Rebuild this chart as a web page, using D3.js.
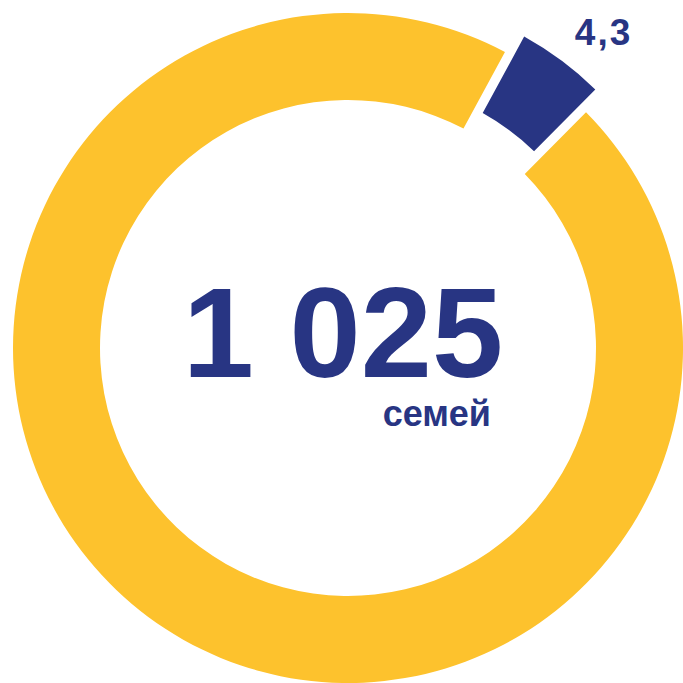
<!DOCTYPE html>
<html>
<head>
<meta charset="utf-8">
<script src="https://cdn.jsdelivr.net/npm/d3@7"></script>
<style>
    html, body { margin: 0; padding: 0; background: white; }
    #chart { width: 683px; height: 683px; }
    text { font-family: "Liberation Sans", Arial, sans-serif; font-weight: bold; }
</style>
</head>
<body>
<div id="chart"></div>
<script>
// data
const categories = ["other", "highlight"];
const values = [95.7, 4.3];
const highlightLabel = "4,3";
const totalLabel = "1 025";
const unitLabel = "семей";

const colors = {
    other: "#FDC22D",
    highlight: "#283583"
};

const width = 683;
const height = 683;
const cx = 348;
const cy = 348;
const innerR = 248;
const outerR = 335;
const explode = 23;

const svg = d3.select("#chart").append("svg")
    .attr("width", width)
    .attr("height", height)
    .attr("viewBox", `0 0 ${width} ${height}`);

const chart = svg.append("g")
    .attr("transform", `translate(${cx}, ${cy})`);

const data = categories.map((c, i) => ({ cat: c, value: values[i] }));

// highlight slice centred at ~37deg from north
const hlSpan = values[1] / d3.sum(values) * 2 * Math.PI;
const mid = 37 * Math.PI / 180;
const start = mid + hlSpan / 2;

const pie = d3.pie()
    .value(d => d.value)
    .sort(null)
    .startAngle(start)
    .endAngle(start + 2 * Math.PI)
    .padAngle(0.015);

const arc = d3.arc()
    .innerRadius(innerR)
    .outerRadius(outerR);

const arcs = pie(data);

chart.selectAll(".slice")
    .data(arcs)
    .enter()
    .append("path")
    .attr("class", "slice")
    .attr("d", arc)
    .attr("fill", d => colors[d.data.cat])
    .attr("transform", d => {
        if (d.data.cat !== "highlight") return null;
        const a = (d.startAngle + d.endAngle) / 2;
        return `translate(${Math.sin(a) * explode}, ${-Math.cos(a) * explode})`;
    });

// slice label
const hl = arcs.find(d => d.data.cat === "highlight");
const labelAngle = (hl.startAngle + hl.endAngle) / 2 + 2.4 * Math.PI / 180;
const labelR = 406;
chart.append("text")
    .attr("x", Math.sin(labelAngle) * labelR)
    .attr("y", -Math.cos(labelAngle) * labelR)
    .attr("dy", "0.35em")
    .attr("text-anchor", "middle")
    .style("fill", colors.highlight)
    .style("font-size", "37px")
    .style("letter-spacing", "2px")
    .text(highlightLabel);

// centre texts
chart.append("text")
    .attr("x", -5)
    .attr("y", 29)
    .attr("text-anchor", "middle")
    .style("fill", colors.highlight)
    .style("font-size", "128px")
    .text(totalLabel);

chart.append("text")
    .attr("x", 143)
    .attr("y", 78)
    .attr("text-anchor", "end")
    .style("fill", colors.highlight)
    .style("font-size", "36px")
    .text(unitLabel);
</script>
</body>
</html>
